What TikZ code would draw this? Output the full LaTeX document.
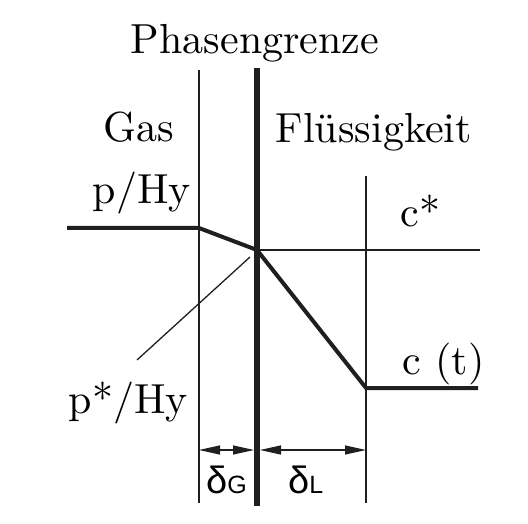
\documentclass[tikz,border=0pt]{standalone}
\usepackage{fontspec}
\newfontfamily\dsans{Liberation Sans}
\usetikzlibrary{arrows.meta}
\begin{document}
\begin{tikzpicture}[x=1pt,y=-1pt,
  lbl/.style={anchor=base west,inner sep=0pt,scale=4.2,font=\fontsize{10}{12}\selectfont},
  thinln/.style={line width=1.3pt,color=black!88},
  boldln/.style={line width=4pt,color=black!88,line join=round},
  wallln/.style={line width=6pt,color=black!88},
  dimln/.style={line width=1.2pt,color=black!88,{Triangle[length=21pt,width=9pt]}-{Triangle[length=21pt,width=9pt]}},
  dlbl/.style={anchor=base west,inner sep=0pt,font=\dsans\fontsize{38}{44}\selectfont}]
\useasboundingbox (0,0) rectangle (528,524);
\fill[white] (0,0) rectangle (528,524);
% key points
\coordinate (gt) at (199,70);  \coordinate (gb) at (199,503);
\coordinate (wt) at (257,68);  \coordinate (wb) at (257,506);
\coordinate (lt) at (366,176); \coordinate (lb) at (366,503);
\coordinate (p0) at (67,228);  \coordinate (pk) at (199,228);
\coordinate (pi) at (257,250); \coordinate (cend) at (480,250);
\coordinate (lk) at (366,388); \coordinate (lend) at (478,388);
\coordinate (ps) at (137,360); \coordinate (pe) at (250,257);
\coordinate (dg1) at (199,450); \coordinate (dg2) at (254,450);
\coordinate (dl1) at (260,450); \coordinate (dl2) at (366,450);
% film boundaries
\draw[thinln] (gt) -- (gb);
\draw[thinln] (lt) -- (lb);
\draw[thinln] (pi) -- (cend);
\draw[thinln] (ps) -- (pe);
\draw[boldln] (p0) -- (pk) -- (pi);
\draw[boldln] (pi) -- (lk) -- (lend);
\draw[wallln] (wt) -- (wb);
% dimensions
\draw[dimln] (dg1) -- (dg2);
\draw[dimln] (dl1) -- (dl2);
% labels
\node[anchor=base,inner sep=0pt,scale=4.2,font=\fontsize{10}{12}\selectfont] (phg) at (255,54) {Phasengrenze};
\node[lbl] (gas) at (103,142) {Gas};
\node[lbl] (fl) at (275,143) {Flüssigkeit};
\node[lbl] (phy) at (92,204) {p/Hy};
\node[lbl] (cs) at (400,226) {c*};
\node[lbl] (ct) at (402,374) {c (t)};
\node[lbl] (pshy) at (68,413) {p*/Hy};
\node[dlbl] (dG) at (206,493) {δ{\fontsize{25}{28}\selectfont G}};
\node[dlbl] (dL) at (288,493) {δ{\fontsize{25}{28}\selectfont L}};
\end{tikzpicture}
\end{document}
